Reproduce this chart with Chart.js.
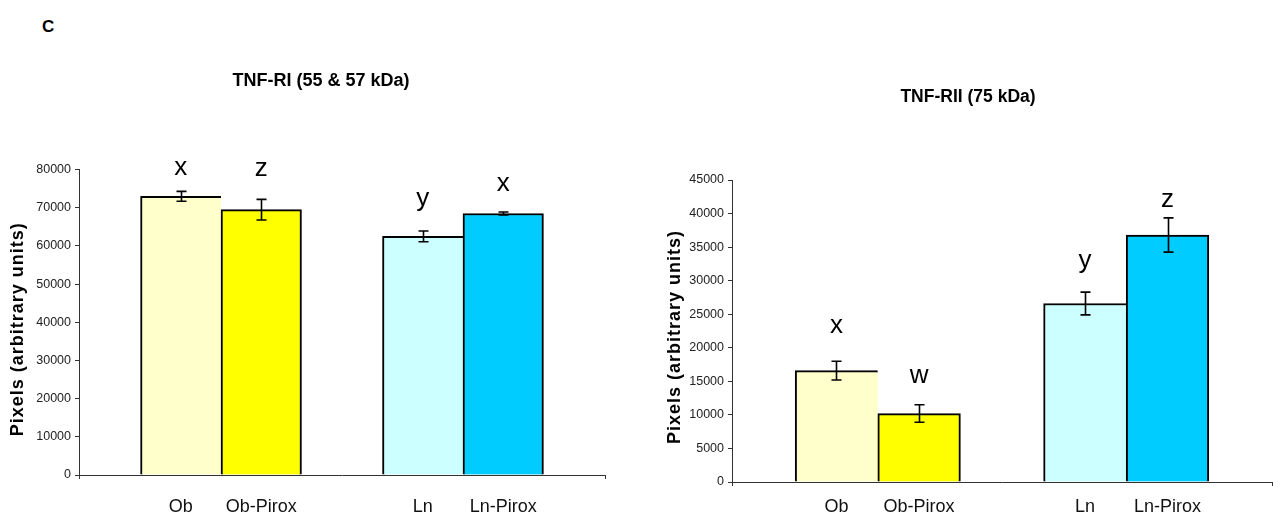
<!DOCTYPE html>
<html>
<head>
<meta charset="utf-8">
<title>TNF receptors</title>
<script src="https://cdn.jsdelivr.net/npm/chart.js@4.4.1/dist/chart.umd.min.js"></script>
<style>
  html, body { margin: 0; padding: 0; background: #fff; }
  body { width: 1282px; height: 529px; position: relative; overflow: hidden;
         font-family: "Liberation Sans", Arial, sans-serif; }
  #panel { position: absolute; left: 42px; top: 18px; font: bold 17px/17px "Liberation Sans", Arial, sans-serif; color: #000; }
  #wrapR1 { position: absolute; left: 0; top: 0; width: 642px; height: 529px; }
  #wrapR2 { position: absolute; left: 654px; top: 0; width: 628px; height: 529px; }
  canvas { display: block; }
</style>
</head>
<body>
<div id="panel">C</div>
<div id="wrapR1"><canvas id="r1" width="642" height="529"></canvas></div>
<div id="wrapR2"><canvas id="r2" width="628" height="529"></canvas></div>

<script>
// ---- data ----
const categories = ['Ob', 'Ob-Pirox', 'Ln', 'Ln-Pirox'];

// TNF-RI (55 & 57 kDa)
const r1Means   = [73000, 69500, 62500, 68500];
const r1Errors  = [1300, 2700, 1400, 400];
const r1Letters = ['x', 'z', 'y', 'x'];
const r1Ticks   = [0, 10000, 20000, 30000, 40000, 50000, 60000, 70000, 80000];

// TNF-RII (75 kDa)
const r2Means   = [16600, 10200, 26600, 36800];
const r2Errors  = [1400, 1300, 1700, 2550];
const r2Letters = ['x', 'w', 'y', 'z'];
const r2Ticks   = [0, 5000, 10000, 15000, 20000, 25000, 30000, 35000, 40000, 45000];

// ---- layout / style ----
const barColours = ['#FFFFCC', '#FFFF00', '#CCFFFF', '#00CCFF'];
const GROUP_CENTRES = [27, 73];      // two groups on a 0..100 axis
const BAR_SPAN = 15.3;               // bar width in axis units
const slotX = categories.map((_, i) =>
  GROUP_CENTRES[Math.floor(i / 2)] + (i % 2 ? 0.5 : -0.5) * BAR_SPAN);

// gap (px) between the top of the error bar and the letter baseline
const r1LetterLift = [16, 23, 25, 21];
const r2LetterLift = [28, 22, 24, 11];

const FONT = '"Liberation Sans", Arial, sans-serif';
Chart.defaults.font.family = FONT;
Chart.defaults.color = '#111';

// error bars and significance letters drawn on top of the bars
const errorBarPlugin = {
  id: 'errorBars',
  afterDatasetsDraw(chart) {
    const { ctx } = chart;
    const yScale = chart.scales.y;
    const ds = chart.data.datasets[0];
    const meta = chart.getDatasetMeta(0);
    ctx.save();
    ctx.strokeStyle = '#000';
    ctx.lineWidth = 1.6;
    meta.data.forEach((bar, i) => {
      const v = ds.data[i].y, e = ds.errors[i];
      const top = yScale.getPixelForValue(v + e);
      const bot = yScale.getPixelForValue(v - e);
      const x = Math.round(bar.x) + 0.5;
      ctx.beginPath();
      ctx.moveTo(x, top); ctx.lineTo(x, bot);
      ctx.moveTo(x - 5, top); ctx.lineTo(x + 5, top);
      ctx.moveTo(x - 5, bot); ctx.lineTo(x + 5, bot);
      ctx.stroke();
      ctx.fillStyle = '#000';
      ctx.font = '26px ' + FONT;
      ctx.textAlign = 'center';
      ctx.textBaseline = 'alphabetic';
      ctx.fillText(ds.letters[i], bar.x, top - ds.letterLift[i]);
    });
    ctx.restore();
  }
};

// slightly spaced-out y axis title, nudged down along the axis
const spacedTitlePlugin = {
  id: 'spacedTitle',
  afterLayout(chart, args, opts) {
    const s = chart.scales.y;
    if (s._spaced) return;
    const orig = s.drawTitle.bind(s);
    s.drawTitle = function () {
      const ctx = chart.ctx;
      ctx.save();
      ctx.letterSpacing = '1px';
      ctx.translate(0, opts.shift || 0);
      orig();
      ctx.restore();
    };
    s._spaced = true;
  }
};

function makeChart(canvasId, cfg) {
  return new Chart(document.getElementById(canvasId), {
    type: 'bar',
    data: {
      datasets: [{
        data: cfg.means.map((m, i) => ({ x: slotX[i], y: m })),
        errors: cfg.errors,
        letters: cfg.letters,
        letterLift: cfg.letterLift,
        backgroundColor: barColours,
        borderColor: '#000',
        borderWidth: c => ({ top: 2, left: 2, right: c.dataIndex % 2 === 0 ? 0 : 2, bottom: 0 }),
        borderSkipped: 'start',
        categoryPercentage: 1,
        barPercentage: 1
      }]
    },
    plugins: [errorBarPlugin, spacedTitlePlugin],
    options: {
      responsive: false,
      animation: false,
      devicePixelRatio: 1,
      layout: { padding: 0 },
      plugins: {
        legend: { display: false },
        tooltip: { enabled: false },
        spacedTitle: { shift: cfg.yTitleShift },
        title: {
          display: true,
          text: cfg.title,
          color: '#000',
          font: { size: cfg.titleSize, weight: 'bold', lineHeight: 1.2 },
          padding: { top: cfg.titleTop, bottom: cfg.titleBottom }
        }
      },
      scales: {
        x: {
          type: 'linear',
          min: 0,
          max: 100,
          offset: false,
          afterBuildTicks: s => { s.ticks = [0, ...slotX, 100].map(v => ({ value: v })); },
          afterFit: s => { s.height = cfg.xHeight; },
          ticks: {
            autoSkip: false,
            maxRotation: 0,
            minRotation: 0,
            padding: cfg.xLabelPad,
            color: '#111',
            font: { size: 18 },
            callback: (v, i) => (i === 0 || i === categories.length + 1) ? '' : categories[i - 1]
          },
          grid: {
            offset: false,
            drawOnChartArea: false,
            drawTicks: true,
            tickLength: 4,
            lineWidth: 1,
            color: c => (c.index === 0 || c.index === categories.length + 1) ? '#333' : 'rgba(0,0,0,0)'
          },
          border: { color: '#333', width: 1 }
        },
        y: {
          min: 0,
          max: cfg.ticks[cfg.ticks.length - 1],
          afterBuildTicks: s => { s.ticks = cfg.ticks.map(v => ({ value: v })); },
          afterFit: s => { s.width = cfg.yWidth; },
          ticks: {
            padding: 4,
            color: '#222',
            font: { size: 12.5 },
            callback: v => String(v)
          },
          grid: {
            drawOnChartArea: false,
            drawTicks: true,
            tickLength: 4,
            color: '#333'
          },
          border: { color: '#333', width: 1 },
          title: {
            display: true,
            text: 'Pixels (arbitrary units)',
            color: '#000',
            font: { size: 18, weight: 'bold', lineHeight: 1.2 },
            padding: { top: cfg.yTitlePad, bottom: 0 }
          }
        },
        // empty right-hand margin so the title stays centred on the whole panel
        margin: {
          type: 'linear',
          position: 'right',
          display: true,
          afterFit: s => { s.width = cfg.padRight; },
          ticks: { display: false },
          grid: { display: false, drawTicks: false },
          border: { display: false }
        }
      }
    }
  });
}

makeChart('r1', {
  title: 'TNF-RI (55 & 57 kDa)',
  titleSize: 18, titleTop: 70, titleBottom: 78,
  means: r1Means, errors: r1Errors, letters: r1Letters, letterLift: r1LetterLift,
  ticks: r1Ticks,
  padRight: 37, yWidth: 79, xHeight: 54, xLabelPad: 17, yTitlePad: 7, yTitleShift: 7
});

makeChart('r2', {
  title: 'TNF-RII (75 kDa)',
  titleSize: 17.5, titleTop: 86.5, titleBottom: 72.5,
  means: r2Means, errors: r2Errors, letters: r2Letters, letterLift: r2LetterLift,
  ticks: r2Ticks,
  padRight: 9, yWidth: 78, xHeight: 47, xLabelPad: 10, yTitlePad: 10, yTitleShift: 6
});
</script>
</body>
</html>
